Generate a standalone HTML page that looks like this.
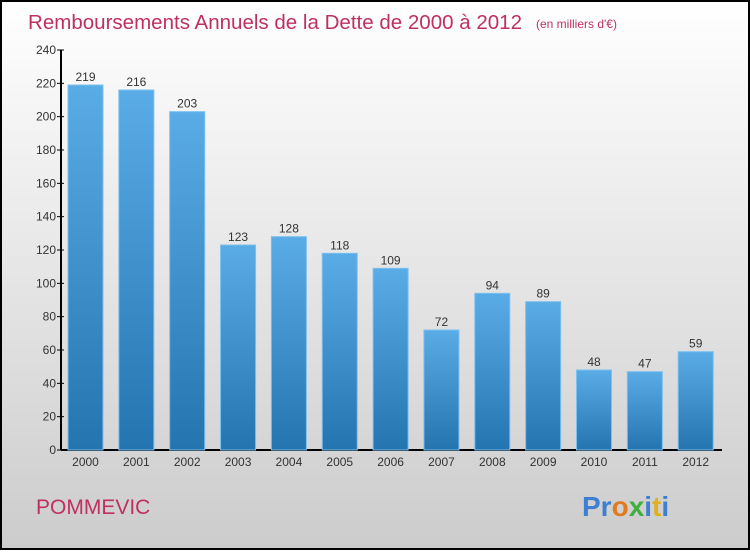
<!DOCTYPE html>
<html><head><meta charset="utf-8"><style>
html,body{margin:0;padding:0;}
body{width:750px;height:550px;overflow:hidden;font-family:"Liberation Sans",sans-serif;}
</style></head><body>
<svg id="chart" width="750" height="550" xmlns="http://www.w3.org/2000/svg">
<defs>
<linearGradient id="bg" x1="0" y1="0" x2="0" y2="1"><stop offset="0" stop-color="#ffffff"/><stop offset="1" stop-color="#cccccc"/></linearGradient>
<linearGradient id="bar" x1="0" y1="0" x2="0" y2="1"><stop offset="0" stop-color="#5aace6"/><stop offset="1" stop-color="#2474b0"/></linearGradient>
</defs>
<rect x="1" y="1" width="748" height="548" fill="url(#bg)" stroke="#000" stroke-width="2"/>
<text x="28" y="29" font-size="20" fill="#c0305f" textLength="494" lengthAdjust="spacingAndGlyphs">Remboursements Annuels de la Dette de 2000 à 2012</text>
<text x="536" y="28" font-size="12" fill="#c0305f">(en milliers d'€)</text>
<g id="plot"></g>
<text x="36" y="514" font-size="21" fill="#c0305f">POMMEVIC</text>
<g font-size="28" font-weight="bold">
<text x="582" y="516"><tspan fill="#3d7fd0">Pr</tspan><tspan fill="#e07b20">o</tspan><tspan fill="#3db03d">x</tspan><tspan fill="#3d7fd0">i</tspan><tspan fill="#e0b020">t</tspan><tspan fill="#3d7fd0">i</tspan></text>
</g>
</svg>
<script>
const categories=["2000","2001","2002","2003","2004","2005","2006","2007","2008","2009","2010","2011","2012"];
const values=[219,216,203,123,128,118,109,72,94,89,48,47,59];
const yTicks=[0,20,40,60,80,100,120,140,160,180,200,220,240];
const NS="http://www.w3.org/2000/svg";
const g=document.getElementById('plot');
const y0=450,yTop=50,yMax=240,x0=61;
const y=v=>y0-(v/yMax)*(y0-yTop);
const x=i=>68+i*50.85;
const bw=35;
function el(t,a){const e=document.createElementNS(NS,t);for(const k in a)e.setAttribute(k,a[k]);g.appendChild(e);return e;}
const ax=el('line',{x1:x0,y1:y0,x2:722,y2:y0,stroke:'#000','stroke-width':2});


const ay=el('line',{x1:x0,y1:y0,x2:x0,y2:yTop,stroke:'#000','stroke-width':2});


yTicks.forEach(t=>{
 const tk=el('line',{x1:x0-4,y1:y(t),x2:x0+3,y2:y(t),stroke:'#000'});
 
 
 const tl=el('text',{x:x0-5,y:y(t)+4,'text-anchor':'end','font-size':12,fill:'#333'});
 tl.textContent=t;
 
 
});
values.forEach((v,i)=>{
 const b=el('rect',{x:x(i),y:y(v),width:bw,height:y0-y(v),fill:'url(#bar)',stroke:'#7cbff0','stroke-width':1});
 
 
 const vl=el('text',{x:x(i)+bw/2,y:y(v)-4,'text-anchor':'middle','font-size':12,fill:'#333'});
 vl.textContent=v;
 
 
 const cl=el('text',{x:x(i)+bw/2,y:466,'text-anchor':'middle','font-size':12,fill:'#333'});
 cl.textContent=categories[i];
 
 
});
</script>
</body></html>
